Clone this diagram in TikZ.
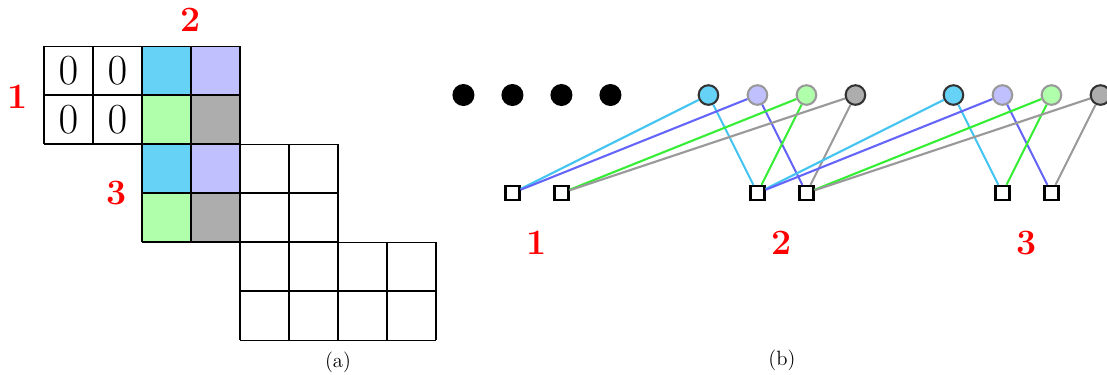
\documentclass[tikz,border=0pt]{standalone}
\usepackage{amsmath,amssymb}
\usepackage[dvipsnames,svgnames,x11names]{xcolor}
\usepackage{tikz}
\usetikzlibrary{calc,positioning}
\definecolor{fillcyan}{HTML}{66D2F6}
\definecolor{filllav}{HTML}{C0C0FF}
\definecolor{fillgreen}{HTML}{B0FFAA}
\definecolor{fillgray}{HTML}{ADADAD}
\definecolor{wirecyan}{HTML}{44C4F0}
\definecolor{wireblue}{HTML}{6464FA}
\definecolor{wiregreen}{HTML}{33EE33}
\definecolor{wiregray}{HTML}{999999}
\definecolor{rimdark}{HTML}{333333}
\definecolor{rimlight}{HTML}{999999}
\tikzset{
    auto,node distance =1 cm and 1 cm,
    blk/.style = {text=red, font=\huge\bfseries},
    zero/.style = {font=\Huge},
    subcap/.style = {font=\large},
    dot/.style = {circle, fill=black, inner sep=0pt, minimum size=0.45cm},
    unit/.style = {circle, draw, line width=1.2pt, inner sep=0pt, minimum size=0.4cm},
    port/.style = {rectangle, draw, line width=1.5pt, fill=white, inner sep=0pt, minimum size=0.28cm},
    wire/.style = {line width=1.2pt}
}

\begin{document}
\begin{tikzpicture}

\useasboundingbox (-0.898,0.939) rectangle (21.694,-6.694);

% ---- (a): coloured cells ----
\fill[fillcyan]  (2,-1) rectangle (3,0);
\fill[filllav]   (3,-1) rectangle (4,0);
\fill[fillgreen] (2,-2) rectangle (3,-1);
\fill[fillgray]  (3,-2) rectangle (4,-1);
\fill[fillcyan]  (2,-3) rectangle (3,-2);
\fill[filllav]   (3,-3) rectangle (4,-2);
\fill[fillgreen] (2,-4) rectangle (3,-3);
\fill[fillgray]  (3,-4) rectangle (4,-3);

% ---- (a): grid ----
\draw[semithick] (0,-2) grid (4,0);
\draw[semithick] (2,-4) grid (6,-2);
\draw[semithick] (4,-6) grid (8,-4);

% ---- (a): zeros and block numbers ----
\node[zero] (Z11) at (0.5,-0.5) {$0$};
\node[zero] (Z12) at (1.5,-0.5) {$0$};
\node[zero] (Z21) at (0.5,-1.5) {$0$};
\node[zero] (Z22) at (1.5,-1.5) {$0$};

\node[blk] (Ba1) at (-0.53,-1.04) {1};
\node[blk] (Ba2) at (3.0,0.53) {2};
\node[blk] (Ba3) at (1.49,-3.0) {3};

\node[subcap] (CapA) at (6.0,-6.45) {(a)};

% ---- (b): padding dots ----
\node[dot] (D0) at (8.56,-1) {};
\node[dot] (D1) at (9.56,-1) {};
\node[dot] (D2) at (10.56,-1) {};
\node[dot] (D3) at (11.56,-1) {};

% ---- (b): first group of units ----
\node[unit, fill=fillcyan,  draw=rimdark]  (U0) at (13.56,-1) {};
\node[unit, fill=filllav,   draw=rimlight] (U1) at (14.56,-1) {};
\node[unit, fill=fillgreen, draw=rimlight] (U2) at (15.56,-1) {};
\node[unit, fill=fillgray,  draw=rimdark]  (U3) at (16.56,-1) {};

% ---- (b): second group of units ----
\node[unit, fill=fillcyan,  draw=rimdark]  (V0) at (18.56,-1) {};
\node[unit, fill=filllav,   draw=rimlight] (V1) at (19.56,-1) {};
\node[unit, fill=fillgreen, draw=rimlight] (V2) at (20.56,-1) {};
\node[unit, fill=fillgray,  draw=rimdark]  (V3) at (21.56,-1) {};

% ---- (b): outputs ----
\node[port] (P1a) at (9.56,-3) {};
\node[port] (P1b) at (10.56,-3) {};
\node[port] (P2a) at (14.56,-3) {};
\node[port] (P2b) at (15.56,-3) {};
\node[port] (P3a) at (19.56,-3) {};
\node[port] (P3b) at (20.56,-3) {};

\node[blk] (Bb1) at (10.06,-4.02) {1};
\node[blk] (Bb2) at (15.06,-4.02) {2};
\node[blk] (Bb3) at (20.06,-4.02) {3};

\node[subcap] (CapB) at (15.06,-6.41) {(b)};

% ---- wires: first group ----
\draw[wire, wirecyan]  (U0) -- (P1a);
\draw[wire, wirecyan]  (U0) -- (P2a);
\draw[wire, wireblue]  (U1) -- (P1a);
\draw[wire, wireblue]  (U1) -- (P2b);
\draw[wire, wiregreen] (U2) -- (P1b);
\draw[wire, wiregreen] (U2) -- (P2a);
\draw[wire, wiregray]  (U3) -- (P1b);
\draw[wire, wiregray]  (U3) -- (P2b);

% ---- wires: second group ----
\draw[wire, wirecyan]  (V0) -- (P2a);
\draw[wire, wirecyan]  (V0) -- (P3a);
\draw[wire, wireblue]  (V1) -- (P2a);
\draw[wire, wireblue]  (V1) -- (P3b);
\draw[wire, wiregreen] (V2) -- (P2b);
\draw[wire, wiregreen] (V2) -- (P3a);
\draw[wire, wiregray]  (V3) -- (P2b);
\draw[wire, wiregray]  (V3) -- (P3b);

\end{tikzpicture}
\end{document}
